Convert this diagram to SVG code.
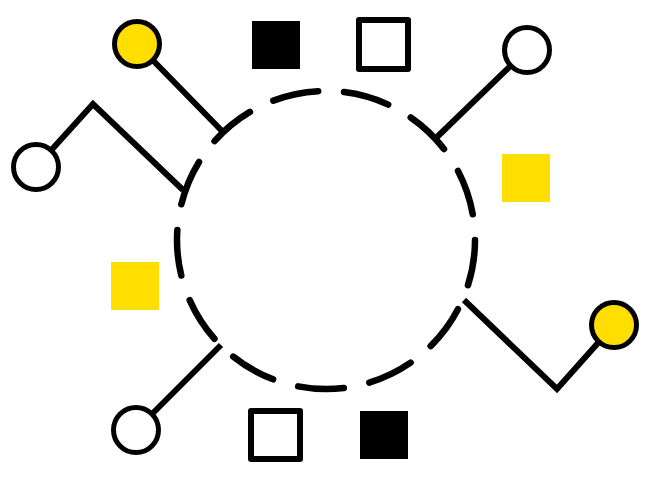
<svg xmlns="http://www.w3.org/2000/svg" width="651" height="477" viewBox="0 0 651 477">
<style>
.ring{fill:none;stroke:#000;stroke-width:6.5;stroke-dasharray:46 26;stroke-linecap:round}
.link{fill:none;stroke:#000;stroke-width:6;stroke-linejoin:miter;stroke-linecap:butt}
.dotY{fill:#FFDE00;stroke:#000;stroke-width:5}
.dotW{fill:#fff;stroke:#000;stroke-width:5}
.sqB{fill:#000}
.sqY{fill:#FFDE00}
.sqW{fill:#fff;stroke:#000;stroke-width:6;stroke-linejoin:round}
</style>
<rect width="651" height="477" fill="#fff"/>
<g id="ring"><circle class="ring" cx="326" cy="240" r="149"/></g>
<g id="connectors">
<polyline class="link" points="36,167 93,104 183,190"/>
<line class="link" x1="137" y1="44" x2="222" y2="131"/>
<line class="link" x1="527" y1="50" x2="436" y2="138"/>
<polyline class="link" points="614,325 557,389 464,300"/>
<line class="link" x1="136" y1="430" x2="221" y2="345"/>
</g>
<g id="node-yellow-topleft"><circle class="dotY" cx="137" cy="44" r="22.5"/></g>
<g id="node-white-left"><circle class="dotW" cx="36" cy="167" r="22.5"/></g>
<g id="node-white-topright"><circle class="dotW" cx="527" cy="50" r="22.5"/></g>
<g id="node-yellow-right"><circle class="dotY" cx="614" cy="325" r="22.5"/></g>
<g id="node-white-bottomleft"><circle class="dotW" cx="136" cy="430" r="22.5"/></g>
<g id="sq-black-top"><rect class="sqB" x="252" y="21" width="48" height="48"/></g>
<g id="sq-white-top"><rect class="sqW" x="359" y="20" width="49" height="49"/></g>
<g id="sq-yellow-right"><rect class="sqY" x="502" y="154" width="48" height="48"/></g>
<g id="sq-yellow-left"><rect class="sqY" x="111" y="262" width="48" height="48"/></g>
<g id="sq-white-bottom"><rect class="sqW" x="251" y="411" width="49" height="48"/></g>
<g id="sq-black-bottom"><rect class="sqB" x="360" y="411" width="48" height="48"/></g>
</svg>
